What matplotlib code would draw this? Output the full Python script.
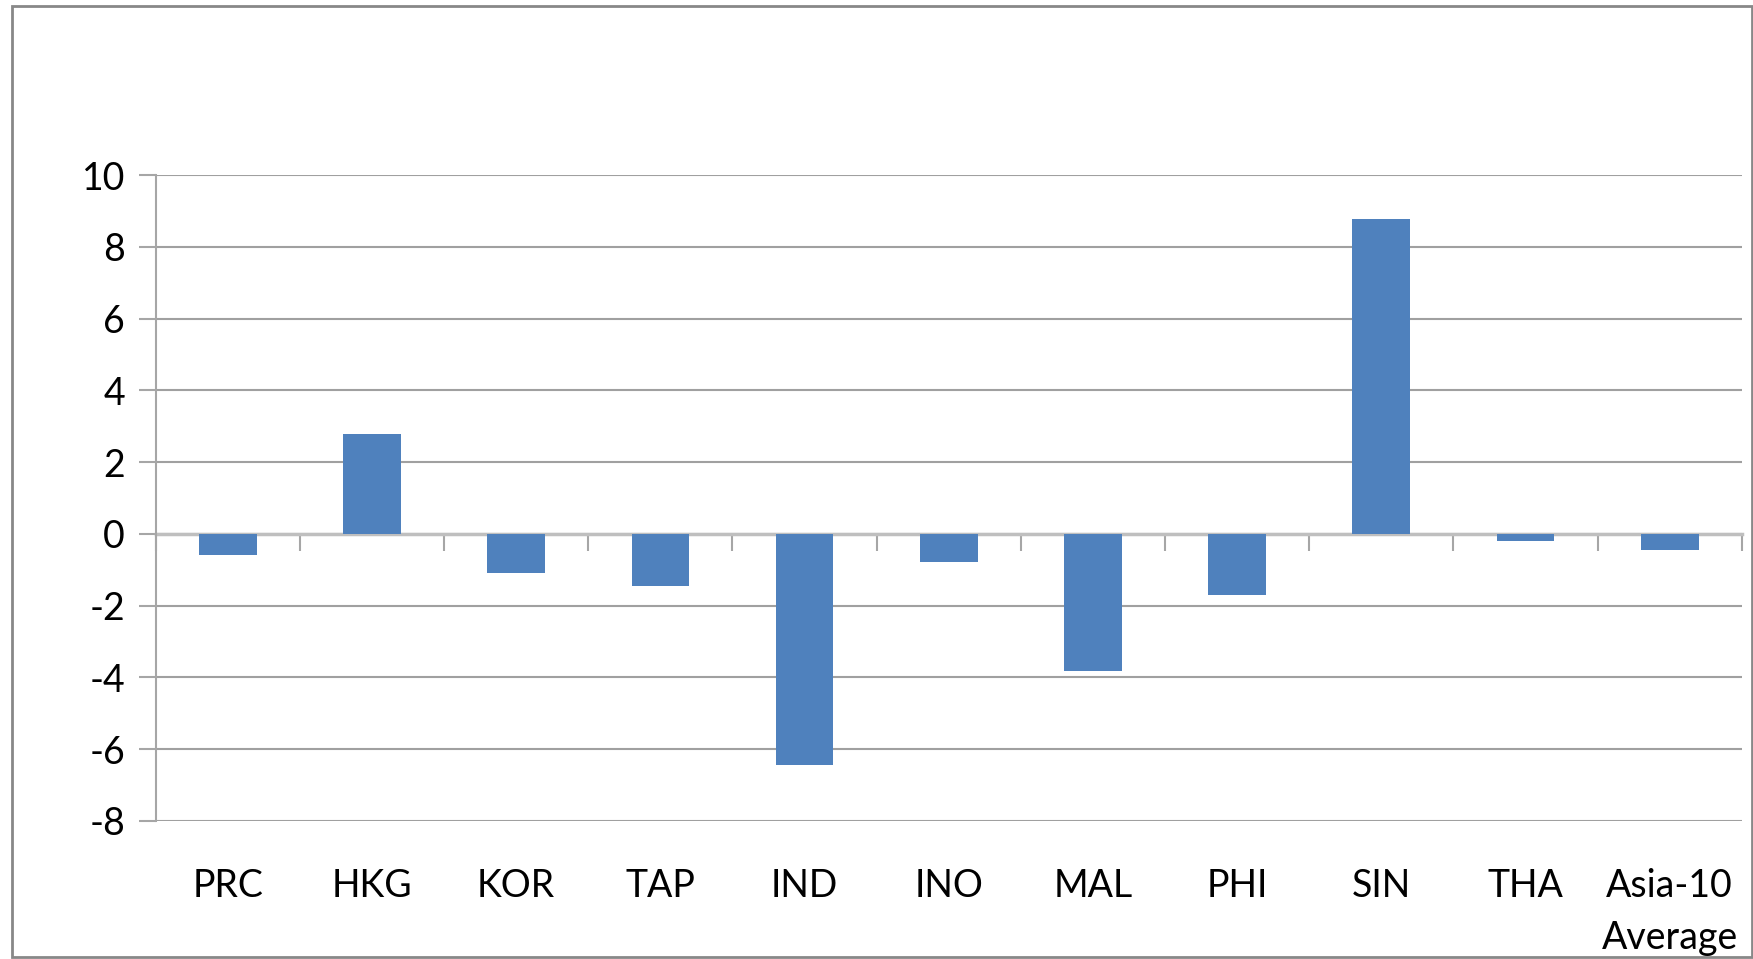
import matplotlib
matplotlib.use("Agg")
import matplotlib.pyplot as plt
import matplotlib.transforms as mtransforms
from matplotlib.patches import Rectangle

# economies and their values
economies = ["PRC", "HKG", "KOR", "TAP", "IND", "INO", "MAL", "PHI", "SIN", "THA", "Asia-10\nAverage"]
values = [-0.60, 2.79, -1.10, -1.45, -6.43, -0.77, -3.81, -1.70, 8.77, -0.19, -0.44]

yticks = [-8, -6, -4, -2, 0, 2, 4, 6, 8, 10]

plt.rcParams['font.family'] = ['Lato', 'DejaVu Sans']

fig = plt.figure(figsize=(17.53, 9.59), dpi=100)
ax = fig.add_axes([0.0888, 0.1439, 0.9048, 0.6736])

x = list(range(len(economies)))
ax.bar(x, values, width=0.4, color="#4F81BD", zorder=3)

ax.set_xlim(-0.5, len(economies) - 0.5)
ax.set_ylim(-8, 10)
ax.set_yticks(yticks)
ax.set_yticklabels([str(t) for t in yticks], fontsize=27)
ax.tick_params(axis='y', direction='out', length=12, width=1.5, color='#a6a6a6', pad=10)

# horizontal gridlines
ax.grid(axis='y', color='#a0a0a0', linewidth=1.5, zorder=0)
ax.set_axisbelow(True)

# category axis sits on zero with boundary tick marks
ax.spines['bottom'].set_position(('data', 0))
ax.spines['bottom'].set_color('#bfbfbf')
ax.spines['bottom'].set_linewidth(2.5)
ax.spines['bottom'].set_zorder(2)
ax.set_xticks([i - 0.5 for i in range(len(economies) + 1)])
ax.set_xticklabels([])
ax.tick_params(axis='x', direction='out', length=12, width=1.5, color='#a6a6a6')
ax.spines['left'].set_color('#a6a6a6')
ax.spines['left'].set_linewidth(1.5)
ax.spines['top'].set_visible(False)
ax.spines['right'].set_visible(False)

# category names below the plot
trans = mtransforms.blended_transform_factory(ax.transData, ax.transAxes)
for i, name in enumerate(economies):
    ax.text(i, -0.073, name, transform=trans, ha='center', va='top',
            fontsize=27, linespacing=1.55)

# border round the chart area
fig.patches.append(Rectangle((12 / 1753, 2 / 959), 1740 / 1753, 951 / 959,
                             transform=fig.transFigure, fill=False,
                             edgecolor='#888888', linewidth=2))

fig.savefig("out.png", dpi=100)
